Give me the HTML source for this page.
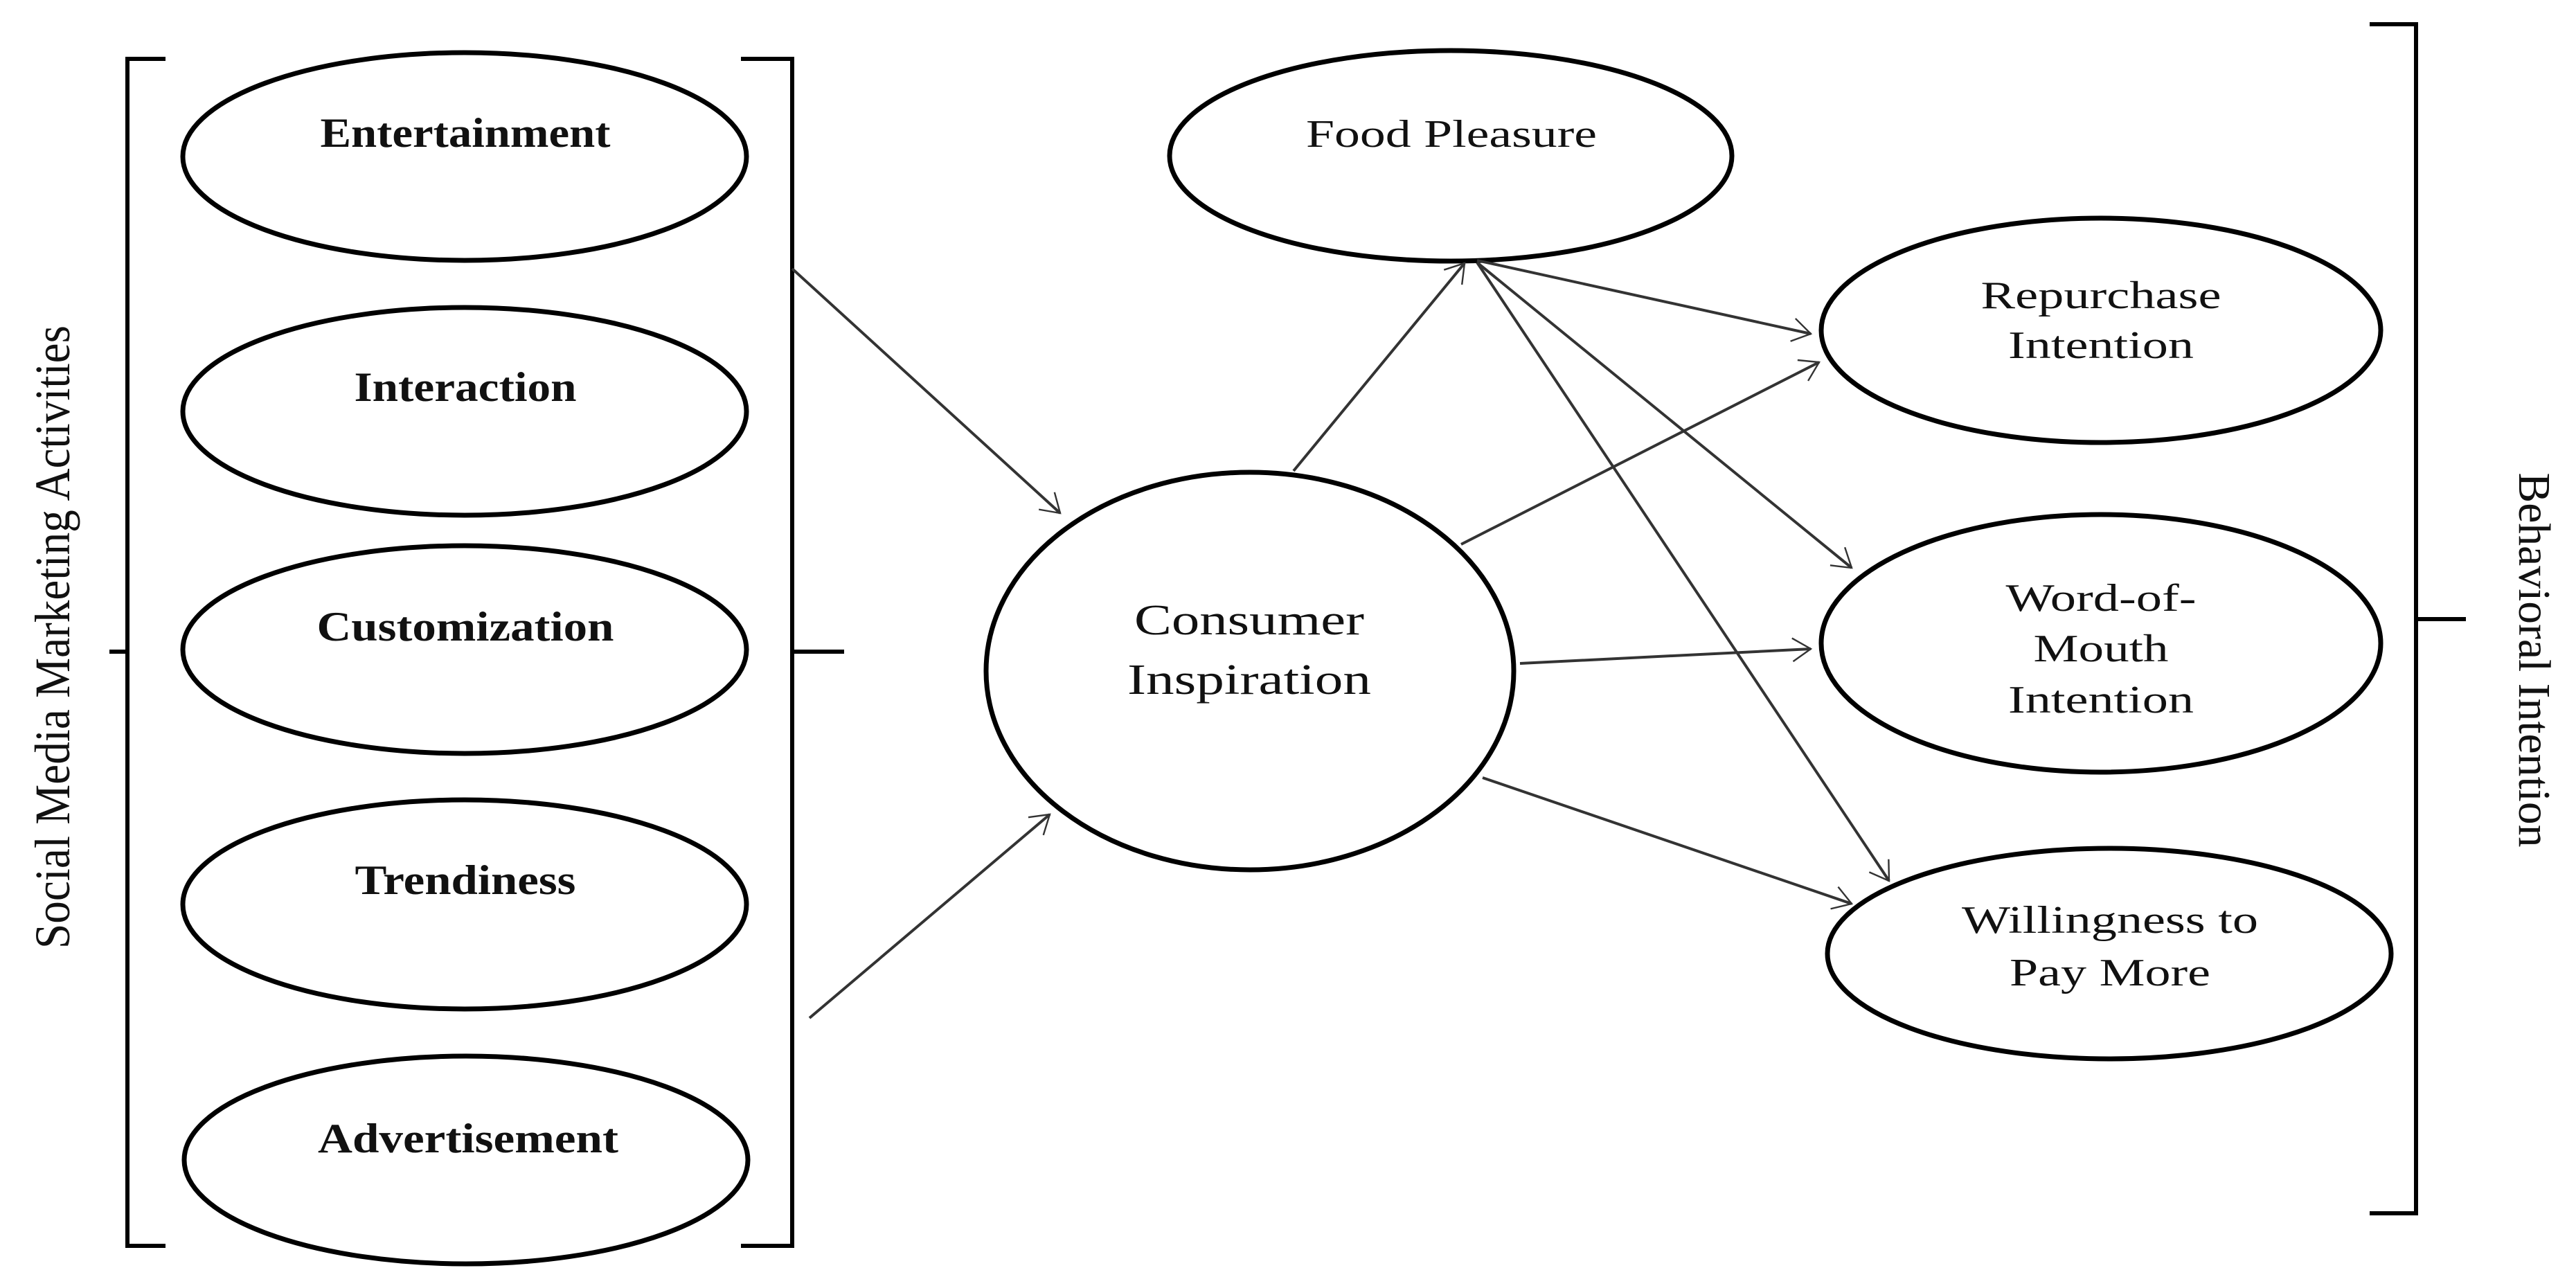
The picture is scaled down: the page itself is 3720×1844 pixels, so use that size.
<!DOCTYPE html>
<html><head><meta charset="utf-8"><style>
html,body{margin:0;padding:0;background:#fff;}
svg{display:block;}
text{font-family:"Liberation Serif",serif;fill:#111;}
</style></head><body>
<svg width="3720" height="1844" viewBox="0 0 3720 1844" xmlns="http://www.w3.org/2000/svg">
<defs>
<marker id="a" viewBox="0 0 20 20" refX="19" refY="10" markerWidth="12" markerHeight="12" markerUnits="userSpaceOnUse" orient="auto" overflow="visible">
<path d="M-25,-18 L19,10 L-25,38" fill="none" stroke="#333" stroke-width="4"/>
</marker>
</defs>
<g fill="none" stroke="#000" stroke-width="7">
<!-- left brackets -->
<path d="M239,85 L184,85 L184,941 L158,941 M184,941 L184,1799 L239,1799" stroke-width="6"/>
<path d="M1070,85 L1144,85 L1144,941 L1219,941 M1144,941 L1144,1799 L1070,1799" stroke-width="6"/>
<!-- right bracket -->
<path d="M3422,35 L3489,35 L3489,894 L3561,894 M3489,894 L3489,1752 L3422,1752" stroke-width="6"/>
<ellipse cx="671" cy="226" rx="407" ry="150"/>
<ellipse cx="671" cy="594" rx="407" ry="150"/>
<ellipse cx="671" cy="938" rx="407" ry="150"/>
<ellipse cx="671" cy="1306" rx="407" ry="151"/>
<ellipse cx="673" cy="1675" rx="407" ry="150"/>
<ellipse cx="1805" cy="969" rx="381" ry="287"/>
<ellipse cx="2095" cy="225" rx="406" ry="152"/>
<ellipse cx="3034" cy="477" rx="404" ry="162"/>
<ellipse cx="3034" cy="929" rx="404" ry="186"/>
<ellipse cx="3046" cy="1377" rx="407" ry="152"/>
</g>
<g stroke="#333" stroke-width="4" fill="none" marker-end="url(#a)">
<line x1="1144" y1="388" x2="1531" y2="741"/>
<line x1="1169" y1="1470" x2="1516" y2="1176"/>
<line x1="1868" y1="680" x2="2115" y2="380"/>
<line x1="2133" y1="376" x2="2615" y2="482"/>
<line x1="2133" y1="379" x2="2674" y2="820"/>
<line x1="2133" y1="379" x2="2728" y2="1272"/>
<line x1="2110" y1="786" x2="2627" y2="523"/>
<line x1="2195" y1="958" x2="2615" y2="937"/>
<line x1="2141" y1="1123" x2="2674" y2="1305"/>
</g>
<g font-size="60" font-weight="bold" text-anchor="middle" lengthAdjust="spacingAndGlyphs">
<text x="672" y="212" textLength="419" lengthAdjust="spacingAndGlyphs">Entertainment</text>
<text x="672" y="579" textLength="321" lengthAdjust="spacingAndGlyphs">Interaction</text>
<text x="672" y="925" textLength="429" lengthAdjust="spacingAndGlyphs">Customization</text>
<text x="672" y="1291" textLength="319" lengthAdjust="spacingAndGlyphs">Trendiness</text>
<text x="676" y="1664" textLength="434" lengthAdjust="spacingAndGlyphs">Advertisement</text>
</g>
<g font-size="62" text-anchor="middle">
<text x="1804" y="916" textLength="332" lengthAdjust="spacingAndGlyphs">Consumer</text>
<text x="1804" y="1002" textLength="352" lengthAdjust="spacingAndGlyphs">Inspiration</text>
</g>
<g font-size="56" text-anchor="middle">
<text x="2096" y="212" textLength="420" lengthAdjust="spacingAndGlyphs">Food Pleasure</text>
<text x="3034" y="445" textLength="347" lengthAdjust="spacingAndGlyphs">Repurchase</text>
<text x="3034" y="517" textLength="268" lengthAdjust="spacingAndGlyphs">Intention</text>
<text x="3034" y="882" textLength="275" lengthAdjust="spacingAndGlyphs">Word-of-</text>
<text x="3034" y="955" textLength="195" lengthAdjust="spacingAndGlyphs">Mouth</text>
<text x="3034" y="1029" textLength="268" lengthAdjust="spacingAndGlyphs">Intention</text>
<text x="3047" y="1347" textLength="428" lengthAdjust="spacingAndGlyphs">Willingness to</text>
<text x="3047" y="1423" textLength="290" lengthAdjust="spacingAndGlyphs">Pay More</text>
</g>
<text transform="translate(100,920) rotate(-90)" font-size="72" text-anchor="middle" textLength="900" lengthAdjust="spacingAndGlyphs">Social Media Marketing Activities</text>
<text transform="translate(3638,953) rotate(90)" font-size="66" text-anchor="middle" textLength="541" lengthAdjust="spacingAndGlyphs">Behavioral Intention</text>
</svg>
</body></html>
